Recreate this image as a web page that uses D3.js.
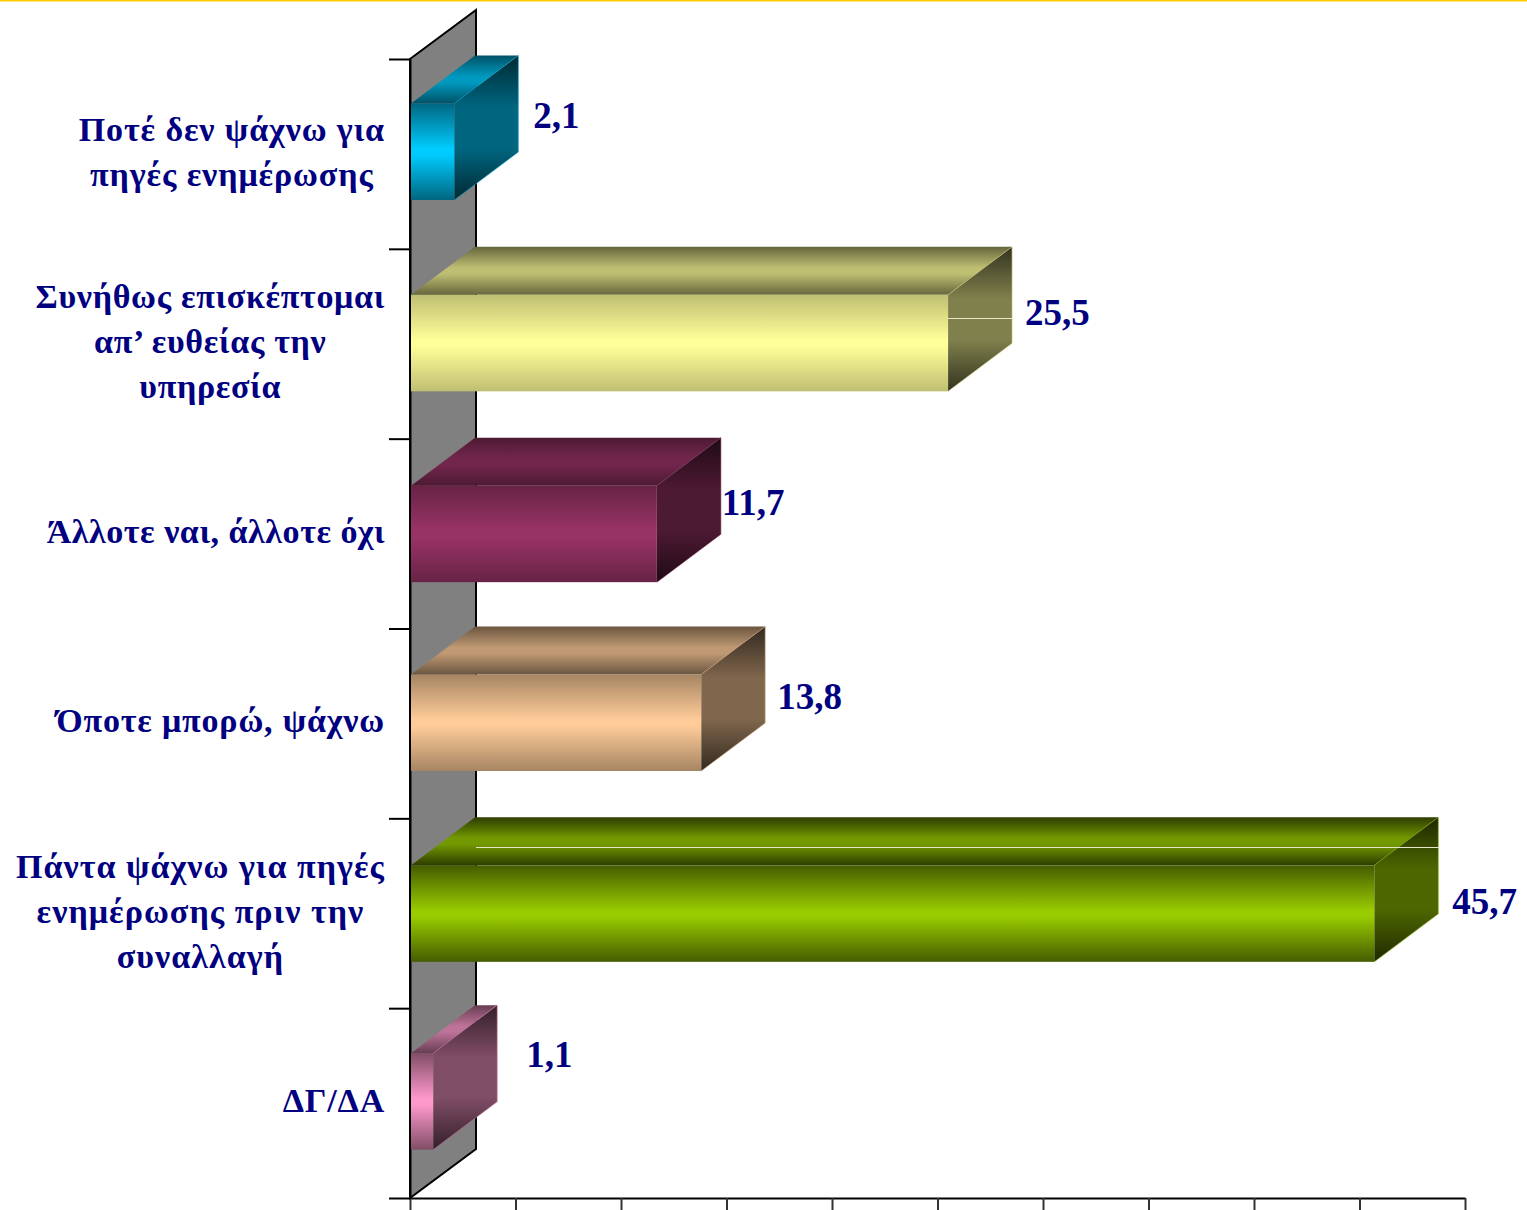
<!DOCTYPE html>
<html lang="el">
<head>
<meta charset="utf-8">
<title>Chart</title>
<script src="https://cdn.jsdelivr.net/npm/d3@7"></script>
<style>
html,body{margin:0;padding:0;background:#fff;overflow:hidden}
svg{display:block}
text{font-family:"Liberation Serif",serif;font-weight:700;fill:#000080}
</style>
</head>
<body>
<svg id="c" width="1527" height="1210"></svg>
<script>
const categories = [
  ["Ποτέ δεν ψάχνω για","πηγές ενημέρωσης"],
  ["Συνήθως επισκέπτομαι","απ’ ευθείας την","υπηρεσία"],
  ["Άλλοτε ναι, άλλοτε όχι"],
  ["Όποτε μπορώ, ψάχνω"],
  ["Πάντα ψάχνω για πηγές","ενημέρωσης πριν την","συναλλαγή"],
  ["ΔΓ/ΔΑ"]
];
const values = [2.1, 25.5, 11.7, 13.8, 45.7, 1.1];
const valueLabels = ["2,1","25,5","11,7","13,8","45,7","1,1"];
const xTicks = [0,5,10,15,20,25,30,35,40,45,50];

const frontMid = ["#00ccff","#ffff99","#993366","#ffcc99","#99cc00","#ff99cc"];
const frontEdge = [0.5,0.75,0.68,0.65,0.45,0.5];
const topEdge = [0.4,0.4,0.5,0.42,0.3,0.4];

// layout
const W=1527,H=1210;
const axisL=410, axisR=1465, axisT=59, axisB=1198;
const wallDX=66, wallDY=-49, barDX=64, barDY=-48;
const barTop=46, barH=96.5;
const barNudge=[-1.5,0,1,0,1,-1];
const labelDX=[15,13,1,12,14,29];
const labelDY=[24.5,30,29,34.5,49,14];

const svg=d3.select("#c");
const x=d3.scaleLinear().domain([0,50]).range([axisL,axisR]);
const yIdx=d3.scaleBand().domain(d3.range(categories.length)).range([axisT,axisB]);
const yEdge=d3.scaleLinear().domain([0,categories.length]).range([axisT,axisB]);

const defs=svg.append("defs");
function grad(id,edge,mid,plateau){
  const g=defs.append("linearGradient").attr("id",id).attr("x1",0).attr("y1",0).attr("x2",0).attr("y2",1);
  g.append("stop").attr("offset","0%").attr("stop-color",edge);
  g.append("stop").attr("offset",(50-plateau)+"%").attr("stop-color",mid);
  g.append("stop").attr("offset",(50+plateau)+"%").attr("stop-color",mid);
  g.append("stop").attr("offset","100%").attr("stop-color",edge);
}
const dark=(c,k)=>{const r=d3.rgb(c);return d3.rgb(r.r*k,r.g*k,r.b*k).formatHex();};
frontMid.forEach((c,i)=>{
  grad("f"+i,dark(c,frontEdge[i]),c,3);
  grad("t"+i,dark(c,topEdge[i]),dark(c,0.75),6);
  grad("s"+i,dark(c,0.2),dark(c,0.5),14);
});

// top gold rule
svg.append("rect").attr("x",0).attr("y",0).attr("width",W).attr("height",1.5).attr("fill","#ffcc00");

// back wall
const line=d3.line();
svg.append("path")
  .attr("d",line([[x(0),axisT],[x(0)+wallDX,axisT+wallDY],[x(0)+wallDX,axisB+wallDY],[x(0),axisB]])+"Z")
  .attr("fill","#808080").attr("stroke","#000").attr("stroke-width",2);

// axes
const gx=svg.append("g").attr("transform",`translate(0,${axisB})`)
  .call(d3.axisBottom(x).tickValues(xTicks).tickSize(14).tickSizeOuter(0).tickFormat(""));
const gy=svg.append("g").attr("transform",`translate(${axisL},0)`)
  .call(d3.axisLeft(yEdge).tickValues(d3.range(categories.length+1)).tickSize(21).tickSizeOuter(0).tickFormat(""));
gx.selectAll("path,line").attr("stroke","#000").attr("stroke-width",2);
gy.selectAll("path,line").attr("stroke","#000").attr("stroke-width",2);
gx.selectAll("line").attr("stroke","#333");

// bars
const bars=svg.selectAll("g.bar").data(values).join("g").attr("class","bar");
bars.each(function(v,i){
  const g=d3.select(this);
  const x0=x(0)+1,x1=x(v),y0=yIdx(i)+barTop+barNudge[i],y1=y0+barH;
  const edge=dark(frontMid[i],0.8);
  g.append("path").attr("d",line([[x0,y0],[x0+barDX,y0+barDY],[x1+barDX,y0+barDY],[x1,y0]])+"Z")
    .attr("fill",`url(#t${i})`);
  g.append("path").attr("d",line([[x1,y0],[x1+barDX,y0+barDY],[x1+barDX,y1+barDY],[x1,y1]])+"Z")
    .attr("fill",`url(#s${i})`);
  g.append("rect").attr("x",x0).attr("y",y0).attr("width",x1-x0).attr("height",barH)
    .attr("fill",`url(#f${i})`);
  g.append("path").attr("d",line([[x1,y0],[x1+barDX,y0+barDY],[x1+barDX,y1+barDY],[x1,y1]]))
    .attr("fill","none").attr("stroke",edge).attr("stroke-opacity",0.6).attr("stroke-width",1);
  g.append("text").attr("x",x1+barDX+labelDX[i]).attr("y",y0+labelDY[i])
    .attr("font-size",37).text(valueLabels[i]);
});

// thin light rules crossing two bars
const rule=(xa,xb,yy)=>svg.append("line").attr("x1",xa).attr("x2",xb).attr("y1",yy).attr("y2",yy)
  .attr("stroke","#e6e6c8").attr("stroke-width",1);
rule(x(values[1]),x(values[1])+barDX+1,318.5);
rule(x(0)+wallDX,x(values[4])+barDX+1,847.5);

// category labels
const lineGap=45, rightEdge=385, firstBase=[141,308,543,732,878,1112];
const spacing=[0.9,0.7,0.55,0.83,1.05,0.8];
categories.forEach((lines,i)=>{
  const t=svg.append("g");
  const els=lines.map((s,k)=>t.append("text").attr("y",firstBase[i]+k*lineGap)
    .attr("font-size",34).attr("letter-spacing",spacing[i]).attr("text-anchor","middle").text(s));
  const w=d3.max(els,e=>e.node().getComputedTextLength());
  els.forEach(e=>e.attr("x",rightEdge-w/2));
});
</script>
</body>
</html>
